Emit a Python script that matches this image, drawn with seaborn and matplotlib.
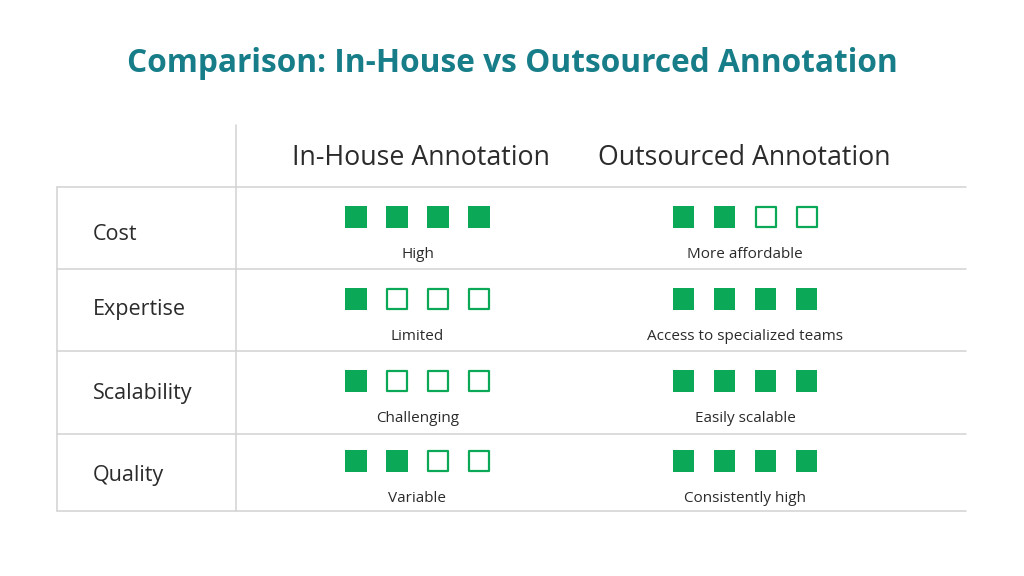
import matplotlib
matplotlib.use("Agg")
import matplotlib.pyplot as plt
import seaborn as sns
import pandas as pd

# ---- data ----
title = "Comparison: In-House vs Outsourced Annotation"
columns = ["In-House Annotation", "Outsourced Annotation"]
categories = ["Cost", "Expertise", "Scalability", "Quality"]
in_house_scores = [4, 1, 1, 2]
outsourced_scores = [2, 4, 4, 4]
in_house_labels = ["High", "Limited", "Challenging", "Variable"]
outsourced_labels = ["More affordable", "Access to specialized teams", "Easily scalable", "Consistently high"]
max_score = 4

# ---- style ----
sns.set_theme(style="white")
plt.rcParams['font.family'] = ['Open Sans', 'DejaVu Sans']
GREEN = "#0BA858"
TEAL = "#177E89"
TEXT = "#2b2b2b"
GRID = "#d2d2d2"

fig = plt.figure(figsize=(10.24, 5.76), dpi=100)
ax = fig.add_axes([0, 0, 1, 1])

# layout (pixel space)
row_lines = [187, 269, 351, 434, 511]
sq_off = [30, 30, 30, 27]
lab_off = [67, 67, 67, 64]
cat_off = [47, 41, 43, 41]
col_centers = [417.5, 745]
header_centers = [420.5, 744.5]
sq_step = 41
left, divider, right = 57, 236, 966

# grid lines
for y in row_lines:
    ax.plot([left, right], [y, y], color=GRID, lw=1.1, zorder=1)
ax.plot([divider, divider], [125, row_lines[-1]], color=GRID, lw=1.1, zorder=1)
ax.plot([left, left], [row_lines[0], row_lines[-1]], color=GRID, lw=1.1, zorder=1)

# title and headers
ax.text(512, 64, title, ha="center", va="center", fontsize=22.8, fontweight="bold", color=TEAL)
for cx, name in zip(header_centers, columns):
    ax.text(cx, 158, name, ha="center", va="center", fontsize=19.3, color=TEXT)

# build squares data frame
recs = []
for r, cat in enumerate(categories):
    for c, scores in enumerate([in_house_scores, outsourced_scores]):
        for i in range(max_score):
            recs.append({
                "x": col_centers[c] + (i - (max_score - 1) / 2) * sq_step,
                "y": row_lines[r] + sq_off[r],
                "filled": i < scores[r],
            })
df = pd.DataFrame(recs)

sns.scatterplot(data=df[df.filled], x="x", y="y", marker="s", s=250,
                color=GREEN, edgecolor="none", linewidth=0, ax=ax, zorder=3, legend=False)
sns.scatterplot(data=df[~df.filled], x="x", y="y", marker="s", s=205,
                facecolor="white", edgecolor=GREEN, linewidth=1.6, ax=ax, zorder=3, legend=False)
ax.set_xlim(0, 1024)
ax.set_ylim(576, 0)
ax.axis("off")

# text labels
for r, cat in enumerate(categories):
    ax.text(93, row_lines[r] + cat_off[r], cat, ha="left", va="center", fontsize=15.5, color=TEXT)
    for c, labels in enumerate([in_house_labels, outsourced_labels]):
        ax.text(col_centers[c], row_lines[r] + lab_off[r], labels[r], ha="center", va="center",
                fontsize=11, color=TEXT)

fig.savefig("out.png", dpi=100, facecolor="white")
